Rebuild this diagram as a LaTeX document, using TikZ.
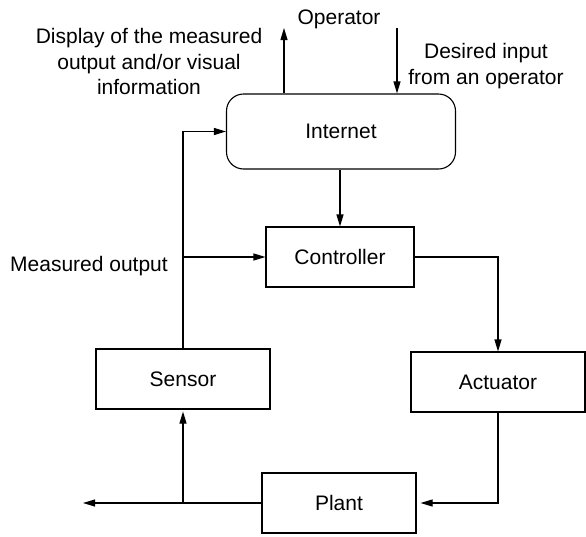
\documentclass[tikz,border=0pt]{standalone}
\usepackage{fontspec}
\setmainfont{Liberation Sans}
\usetikzlibrary{arrows.meta}
\begin{document}
\begin{tikzpicture}[x=1pt,y=-1pt,
  every node/.style={font=\fontsize{21}{25.5}\selectfont},
  blockbox/.style={draw, line width=1.1pt, minimum height=60pt, inner sep=0pt},
  netbox/.style={draw, line width=1.1pt, rounded corners=17pt, minimum width=229pt, minimum height=75pt, inner sep=0pt},
  arr/.style={line width=1.1pt, -{Triangle[length=12pt,width=7pt]}},
  label/.style={inner sep=0pt, align=center}]
\useasboundingbox (0,0) rectangle (586,536);

% blocks
\node[netbox] (internet) at (341,131.5) {Internet};
\node[blockbox, minimum width=148pt] (controller) at (340,257) {Controller};
\node[blockbox, minimum width=174pt] (sensor) at (183,379) {Sensor};
\node[blockbox, minimum width=174pt] (actuator) at (498,382) {Actuator};
\node[blockbox, minimum width=154pt] (plant) at (339,503) {Plant};

% texts
\node[label, anchor=base] (operator) at (339,24) {Operator};
\node[label] (display) at (149,61.5) {Display of the measured\\output and/or visual\\information};
\node[label] (desired) at (486,66) {Desired input\\from an operator};
\node[label, anchor=base] (measured) at (89,271) {Measured output};

% free ends
\coordinate (dispTip) at (284,28);
\coordinate (opStart) at (397,28);
\coordinate (outTip) at (83,503);

% connectors
\draw[arr] (internet.north -| dispTip) -- (dispTip);
\draw[arr] (opStart) -- (opStart |- internet.north);
\draw[arr] (internet.south -| controller.north) -- (controller.north);
\draw[arr] (sensor.north) |- (internet.west);
\draw[arr] (sensor.north |- controller.west) -- (controller.west);
\draw[arr] (controller.east) -| (actuator.north);
\draw[arr, shorten >=4pt] (actuator.south) |- (plant.east);
\draw[arr] (plant.west) -- (outTip);
\draw[arr, shorten >=2pt] (sensor.south |- plant.west) -- (sensor.south);
\end{tikzpicture}
\end{document}
